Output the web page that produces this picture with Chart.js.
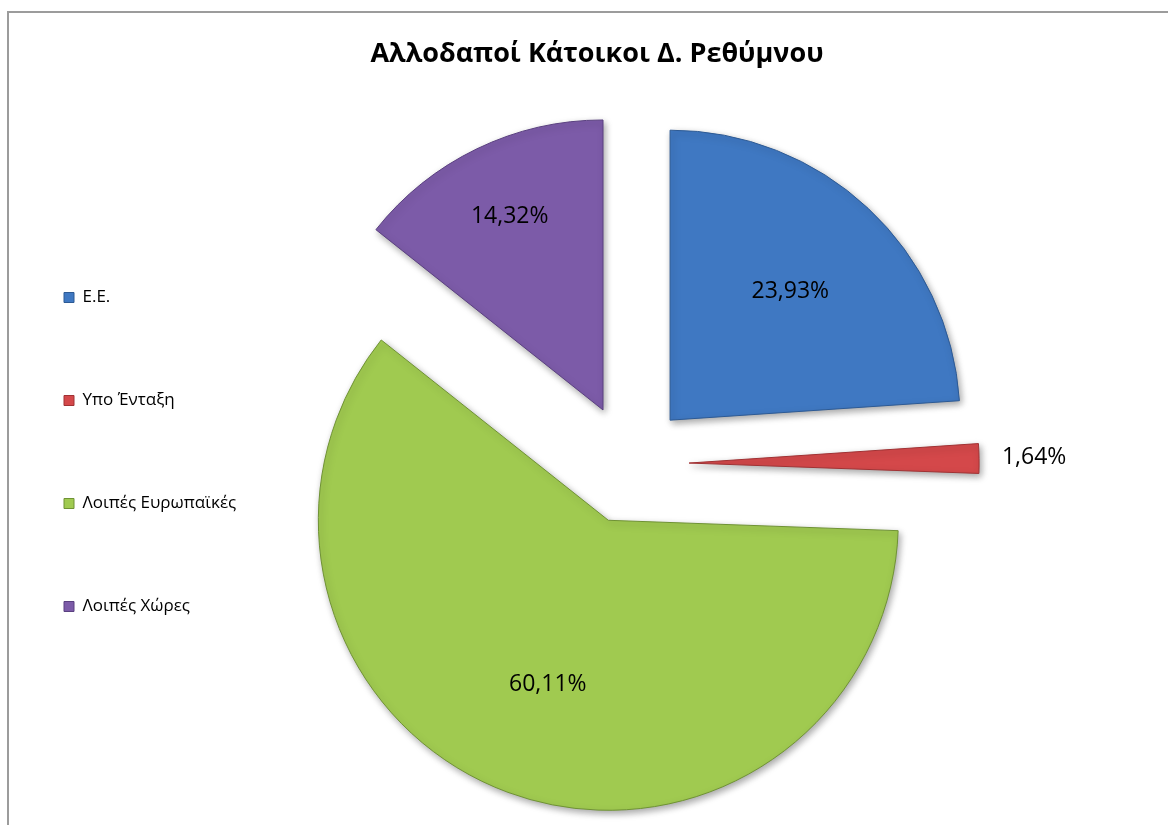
<!DOCTYPE html>
<html lang="el">
<head>
    <meta charset="UTF-8">
    <title>Αλλοδαποί Κάτοικοι Δ. Ρεθύμνου</title>
    <script src="https://cdn.jsdelivr.net/npm/chart.js"></script>
    <style>
        html, body {
            margin: 0;
            padding: 0;
            background: #fff;
            overflow: hidden;
            width: 1168px;
            height: 825px;
        }
        .frame {
            position: absolute;
            left: 7px;
            top: 11px;
            width: 1200px;
            height: 900px;
            border: 2px solid #9c9c9c;
            box-sizing: border-box;
        }
        .chart-box {
            position: absolute;
            left: 0;
            top: 0;
            width: 1168px;
            height: 825px;
        }
    </style>
</head>
<body>
    <div class="frame"></div>
    <div class="chart-box">
        <canvas id="grafico"></canvas>
    </div>
    <script>
        const chartTitle = 'Αλλοδαποί Κάτοικοι Δ. Ρεθύμνου';
        const categories = ['Ε.Ε.', 'Υπο Ένταξη', 'Λοιπές Ευρωπαϊκές', 'Λοιπές Χώρες'];
        const shares = [23.93, 1.64, 60.11, 14.32];
        const labelsText = ['23,93%', '1,64%', '60,11%', '14,32%'];

        const colors = ['#3f78c2', '#d4484a', '#a0ca50', '#7c5ba8'];
        const edges = ['#2d5a94', '#a03234', '#6f9234', '#5a4080'];

        const EXPLODE = 60; // απόσταση κάθε φέτας από το κέντρο (px)

        // το offset του Chart.js μετακινεί μόνο κατά offset/4 και μεγαλώνει την ακτίνα,
        // οπότε μετακινούμε τις φέτες μόνοι μας χωρίς να αλλάξει η ακτίνα
        const explodeSlices = {
            id: 'explodeSlices',
            beforeDatasetDraw(chart) {
                chart.getDatasetMeta(0).data.forEach(arc => {
                    if (arc._exploded) return;
                    const origDraw = arc.draw;
                    arc.draw = function (c) {
                        const mid = (this.startAngle + this.endAngle) / 2;
                        c.save();
                        c.translate(Math.cos(mid) * EXPLODE, Math.sin(mid) * EXPLODE);
                        origDraw.call(this, c);
                        c.restore();
                    };
                    arc._exploded = true;
                });
            }
        };

        // ο τίτλος κεντράρεται σε όλο το πλαίσιο, όχι πάνω στην πίτα
        const titlePlugin = {
            id: 'titlePlugin',
            afterDraw(chart) {
                const ctx = chart.ctx;
                ctx.save();
                ctx.font = 'bold 27px "Open Sans", sans-serif';
                ctx.fillStyle = '#000';
                ctx.textAlign = 'center';
                ctx.textBaseline = 'middle';
                ctx.fillText(chartTitle, 597, 54);
                ctx.restore();
            }
        };

        // ετικέτες ποσοστών πάνω στις φέτες
        const pctLabels = {
            id: 'pctLabels',
            afterDatasetsDraw(chart) {
                const ctx = chart.ctx;
                const meta = chart.getDatasetMeta(0);
                const dist = [0.607, 1.19, 0.603, 0.74];
                ctx.save();
                ctx.font = '23px "Open Sans", sans-serif';
                ctx.fillStyle = '#000';
                ctx.textAlign = 'center';
                ctx.textBaseline = 'middle';
                meta.data.forEach((arc, i) => {
                    const p = arc.getProps(['x', 'y', 'startAngle', 'endAngle', 'outerRadius']);
                    const mid = (p.startAngle + p.endAngle) / 2;
                    const d = EXPLODE + p.outerRadius * dist[i];
                    ctx.fillText(labelsText[i], p.x + Math.cos(mid) * d, p.y + Math.sin(mid) * d);
                });
                ctx.restore();
            }
        };

        const sliceShadow = {
            id: 'sliceShadow',
            beforeDatasetDraw(chart) {
                const ctx = chart.ctx;
                ctx.save();
                ctx.shadowColor = 'rgba(0,0,0,0.35)';
                ctx.shadowBlur = 7;
                ctx.shadowOffsetX = 2;
                ctx.shadowOffsetY = 3;
            },
            afterDatasetDraw(chart) {
                chart.ctx.restore();
            }
        };

        const ctx = document.getElementById('grafico').getContext('2d');
        new Chart(ctx, {
            type: 'pie',
            data: {
                labels: categories,
                datasets: [{
                    data: shares,
                    backgroundColor: colors,
                    borderColor: edges,
                    borderWidth: 1,
                    offset: 0,
                    hoverOffset: 0
                }]
            },
            options: {
                responsive: true,
                maintainAspectRatio: false,
                animation: false,
                events: [],
                radius: 290,
                layout: {
                    padding: { left: -22, right: 156, top: 203, bottom: 100 }
                },
                plugins: {
                    title: { display: false },
                    legend: {
                        position: 'left',
                        align: 'start',
                        fullSize: false,
                        labels: {
                            boxWidth: 10,
                            boxHeight: 10,
                            padding: 86,
                            color: '#000',
                            font: { family: '"Open Sans", sans-serif', size: 17 }
                        }
                    },
                    tooltip: { enabled: false }
                }
            },
            plugins: [explodeSlices, sliceShadow, pctLabels, titlePlugin]
        });
    </script>
</body>
</html>
